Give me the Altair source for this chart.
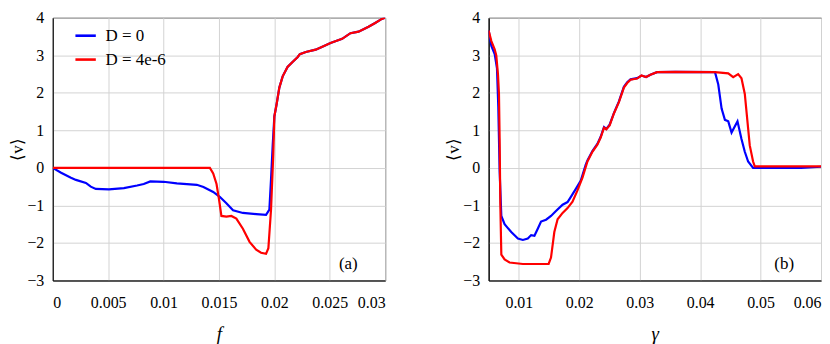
import altair as alt
import pandas as pd

# ---------------- Panel (a): <v> versus f ----------------
a_blue_f = [0.0, 0.00075, 0.00164, 0.00209, 0.00299, 0.00343, 0.00388, 0.00507, 0.00642,
            0.00761, 0.00821, 0.0088, 0.0100, 0.0112, 0.0130, 0.0136, 0.01448, 0.01507,
            0.01567, 0.01627, 0.01716, 0.01836, 0.01925, 0.01955, 0.0197, 0.01985, 0.0200,
            0.02021, 0.02045, 0.02075, 0.02119, 0.02164, 0.02209, 0.0223, 0.02284, 0.02373,
            0.02448, 0.02507, 0.02612, 0.02687, 0.0276, 0.0285, 0.0291, 0.0297, 0.0300]
a_blue_v = [0.0, -0.13, -0.26, -0.32, -0.40, -0.50, -0.56, -0.57, -0.54,
            -0.47, -0.43, -0.36, -0.37, -0.41, -0.45, -0.51, -0.64, -0.77,
            -0.94, -1.13, -1.20, -1.23, -1.25, -1.11, -0.30, 0.60, 1.37,
            1.71, 2.14, 2.44, 2.69, 2.82, 2.95, 3.03, 3.09, 3.15,
            3.25, 3.33, 3.44, 3.59, 3.63, 3.76, 3.86, 3.97, 4.0]

a_red_f = [0.0, 0.01418, 0.01448, 0.01478, 0.01501, 0.01522, 0.01567, 0.01612, 0.01657,
           0.01716, 0.01776, 0.01836, 0.0188, 0.01925, 0.01946, 0.0197, 0.0199, 0.0200,
           0.02021, 0.02045, 0.02075, 0.02119, 0.02164, 0.02209, 0.0223, 0.02284, 0.02373,
           0.02448, 0.02507, 0.02612, 0.02687, 0.0276, 0.0285, 0.0291, 0.0297, 0.0300]
a_red_v = [0.0, 0.0, -0.15, -0.43, -0.85, -1.28, -1.30, -1.28, -1.35,
           -1.62, -1.97, -2.18, -2.26, -2.29, -2.14, -1.11, 0.34, 1.37,
           1.71, 2.14, 2.44, 2.69, 2.82, 2.95, 3.03, 3.09, 3.15,
           3.25, 3.33, 3.44, 3.59, 3.63, 3.76, 3.86, 3.97, 4.0]

# ---------------- Panel (b): <v> versus gamma ----------------
b_blue_g = [0.0050, 0.00545, 0.0060, 0.00638, 0.0066, 0.00682, 0.0071, 0.00764, 0.00874,
            0.00984, 0.01066, 0.01148, 0.01203, 0.01258, 0.01313, 0.01367, 0.0145, 0.01532,
            0.01614, 0.01724, 0.01806, 0.01861, 0.01943, 0.02025, 0.02107, 0.02135, 0.02217,
            0.02299, 0.02354, 0.02409, 0.02447, 0.02502, 0.02573, 0.02656, 0.02738, 0.02793,
            0.02848, 0.02957, 0.03029, 0.03105, 0.03177, 0.03286, 0.03588, 0.04246, 0.0430,
            0.04355, 0.0441, 0.04465, 0.0452, 0.04575, 0.04618, 0.04684, 0.04739, 0.04794,
            0.04876, 0.05671, 0.0600]
b_blue_v = [3.66, 3.25, 3.03, 2.65, 1.62, -0.09, -1.28, -1.50, -1.71,
            -1.88, -1.92, -1.88, -1.79, -1.81, -1.62, -1.43, -1.38, -1.28,
            -1.15, -0.98, -0.91, -0.77, -0.56, -0.34, 0.09, 0.20, 0.45,
            0.64, 0.83, 1.09, 1.04, 1.15, 1.46, 1.77, 2.16, 2.28,
            2.36, 2.39, 2.46, 2.42, 2.48, 2.55, 2.56, 2.55, 2.22,
            1.58, 1.28, 1.24, 0.94, 1.11, 1.24, 0.77, 0.43, 0.17,
            0.0, 0.0, 0.03]

b_red_g = [0.0050, 0.00545, 0.0060, 0.00627, 0.00655, 0.00671, 0.00682, 0.00693, 0.0071,
           0.00764, 0.00846, 0.01066, 0.01493, 0.01532, 0.01587, 0.01641, 0.01724, 0.01806,
           0.01888, 0.0197, 0.02053, 0.02135, 0.02217, 0.02299, 0.02354, 0.02409, 0.02447,
           0.02502, 0.02573, 0.02656, 0.02738, 0.02793, 0.02848, 0.02957, 0.03029, 0.03105,
           0.03177, 0.03286, 0.03588, 0.04246, 0.04465, 0.04547, 0.04629, 0.04684, 0.04739,
           0.04821, 0.04876, 0.04904, 0.0600]
b_red_v = [3.66, 3.38, 3.16, 2.99, 2.48, 1.97, 0.77, -0.94, -2.31,
           -2.44, -2.52, -2.56, -2.56, -2.39, -1.71, -1.37, -1.20, -1.07,
           -0.90, -0.60, -0.26, 0.17, 0.43, 0.62, 0.81, 1.07, 1.03,
           1.13, 1.45, 1.75, 2.14, 2.26, 2.35, 2.38, 2.46, 2.42,
           2.48, 2.55, 2.56, 2.55, 2.52, 2.42, 2.50, 2.39, 1.97,
           0.60, 0.17, 0.04, 0.04]

series_names = ["D = 0", "D = 4e-6"]
series_colors = ["#0000ff", "#ff0000"]
y_ticks = [-3, -2, -1, 0, 1, 2, 3, 4]
a_ticks = [0, 0.005, 0.01, 0.015, 0.02, 0.025, 0.03]
b_ticks = [0.01, 0.02, 0.03, 0.04, 0.05, 0.06]


def frame(xs_blue, vs_blue, xs_red, vs_red):
    rows = []
    for i, (x, v) in enumerate(zip(xs_blue, vs_blue)):
        rows.append({"x": x, "v": v, "series": series_names[0], "k": i})
    for i, (x, v) in enumerate(zip(xs_red, vs_red)):
        rows.append({"x": x, "v": v, "series": series_names[1], "k": i})
    return pd.DataFrame(rows)


FONT = "Liberation Serif, Times New Roman, serif"
W, H = 334, 264
AX = dict(labelFont=FONT, titleFont=FONT, labelFontSize=16, labelColor="#000000",
          titleColor="#000000", gridColor="#d3d3d3", gridWidth=1,
          domainColor="#000000", domainWidth=1, tickSize=0,
          titleFontWeight="normal", format="~g")


def panel(df, domain, ticks, xtitle, tag):
    line = alt.Chart(df).mark_line(strokeWidth=2.2, clip=True).encode(
        x=alt.X("x:Q",
                scale=alt.Scale(domain=domain, nice=False, zero=False),
                axis=alt.Axis(values=ticks, title=xtitle,
                              titleFontStyle="italic", titleFontSize=19,
                              titlePadding=14, labelPadding=14, **AX)),
        y=alt.Y("v:Q",
                scale=alt.Scale(domain=[-3, 4], nice=False),
                axis=alt.Axis(values=y_ticks, title="⟨v⟩", titleFontSize=17,
                              titlePadding=0, labelPadding=9, **AX)),
        color=alt.Color("series:N",
                        scale=alt.Scale(domain=series_names, range=series_colors),
                        legend=alt.Legend(title=None, orient="none", legendX=21, legendY=6,
                                          symbolType="stroke", symbolSize=420,
                                          symbolStrokeWidth=2.6, labelFontSize=17,
                                          labelFont=FONT, rowPadding=4,
                                          labelOffset=8)),
        order="k:Q",
    )
    label = alt.Chart(pd.DataFrame({"t": [tag]})).mark_text(
        font=FONT, fontSize=17, align="center", baseline="middle"
    ).encode(text="t:N", x=alt.value(W - 37), y=alt.value(H - 17))
    return alt.layer(line, label).properties(width=W, height=H)


pa = panel(frame(a_blue_f, a_blue_v, a_red_f, a_red_v), [0, 0.03], a_ticks, "f", "(a)")
pb = panel(frame(b_blue_g, b_blue_v, b_red_g, b_red_v), [0.005, 0.06], b_ticks, "γ", "(b)")

chart = alt.hconcat(pa, pb, spacing=58).properties(
    padding={"left": 0, "top": 0, "right": 0, "bottom": 0},
    background="#ffffff",
).configure_view(
    stroke="#000000", strokeWidth=1
)

chart.save("out.html", embed_options={"renderer": "svg", "actions": False})
